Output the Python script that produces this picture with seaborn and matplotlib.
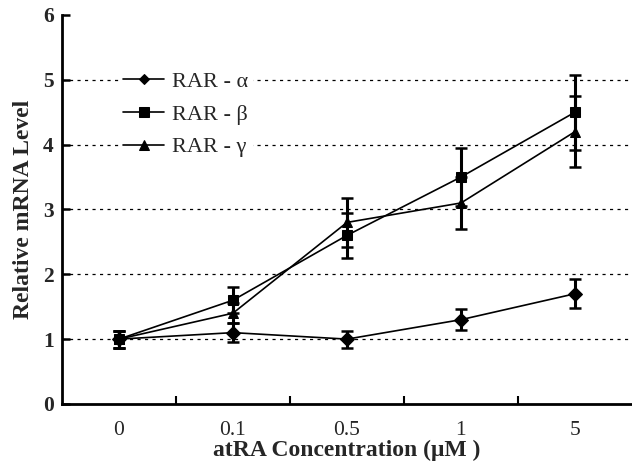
import matplotlib
matplotlib.use("Agg")
import matplotlib.pyplot as plt
import seaborn as sns
import pandas as pd
import numpy as np

categories = ["0", "0.1", "0.5", "1", "5"]
series_names = ["RAR - α", "RAR - β", "RAR - γ"]
alpha_vals = [1.0, 1.1, 1.0, 1.3, 1.7]
alpha_err = [0.13, 0.15, 0.13, 0.16, 0.22]
beta_vals = [1.0, 1.6, 2.6, 3.5, 4.5]
beta_err = [0.13, 0.2, 0.35, 0.45, 0.58]
gamma_vals = [1.0, 1.4, 2.8, 3.1, 4.2]
gamma_err = [0.13, 0.15, 0.38, 0.4, 0.55]
markers = ["D", "s", "^"]
msizes = [5.5, 6.5, 7.5]

sns.set_theme(style="white")
plt.rcParams["font.family"] = ["Liberation Serif", "DejaVu Serif"]

rows = []
for name, vals, errs in zip(series_names, [alpha_vals, beta_vals, gamma_vals],
                            [alpha_err, beta_err, gamma_err]):
    for i, (c, v, e) in enumerate(zip(categories, vals, errs)):
        rows.append({"series": name, "conc": c, "pos": i, "value": v, "err": e})
df = pd.DataFrame(rows)

fig = plt.figure(figsize=(6.32, 4.67), dpi=100)
ax = fig.add_axes([0.098, 0.135, 0.902, 0.833])

for y in [1, 2, 3, 4, 5]:
    ax.axhline(y, color="black", lw=0.9, ls=(0, (2.5, 3.5)), zorder=0)

for name in series_names:
    sub = df[df["series"] == name]
    ax.errorbar(sub["pos"], sub["value"], yerr=sub["err"], fmt="none",
                ecolor="black", elinewidth=2.2, capsize=4, capthick=1.8, zorder=2)

sns.lineplot(data=df, x="pos", y="value", hue="series", style="series",
             markers=dict(zip(series_names, markers)), dashes=False,
             palette=["black"] * 3, linewidth=1.2, markersize=7,
             markeredgecolor="black", ax=ax, zorder=3, legend=True)

for line, ms in zip(ax.lines[-3:], msizes):
    line.set_markersize(ms)

ax.set_xlim(-0.5, 4.5)
ax.set_ylim(0, 6)
ax.set_xticks(range(len(categories)))
ax.set_xticklabels(categories)
ax.set_xticks([0.5, 1.5, 2.5, 3.5], minor=True)
ax.tick_params(axis="x", which="major", length=0, labelsize=15.5, pad=12)
ax.tick_params(axis="x", which="minor", length=6, width=1.5, direction="in",
               color="black", bottom=True)
ax.set_yticks([0, 1, 2, 3, 4, 5, 6])
ax.tick_params(axis="y", which="major", length=6, width=1.8, direction="in",
               color="black", left=True, labelsize=15.5, pad=6)
for lab in ax.get_yticklabels():
    lab.set_fontweight("bold")

for s in ["top", "right"]:
    ax.spines[s].set_visible(False)
for s in ["left", "bottom"]:
    ax.spines[s].set_color("black")
    ax.spines[s].set_linewidth(2)

ax.set_xlabel("atRA Concentration (μM )", fontsize=17, fontweight="bold", labelpad=0)
ax.set_ylabel("Relative mRNA Level", fontsize=17, fontweight="bold", labelpad=6)

handles, labels = ax.get_legend_handles_labels()
for h, ms in zip(handles, msizes):
    h.set_markersize(ms)
leg = ax.legend(handles, labels, loc="upper left", bbox_to_anchor=(0.08, 0.895),
                frameon=True, facecolor="white", edgecolor="none", framealpha=1,
                fontsize=16, handlelength=1.85, labelspacing=0.55,
                borderpad=0.2, handletextpad=0.35)
leg.get_frame().set_linewidth(0)

fig.savefig("out.png", dpi=100)
